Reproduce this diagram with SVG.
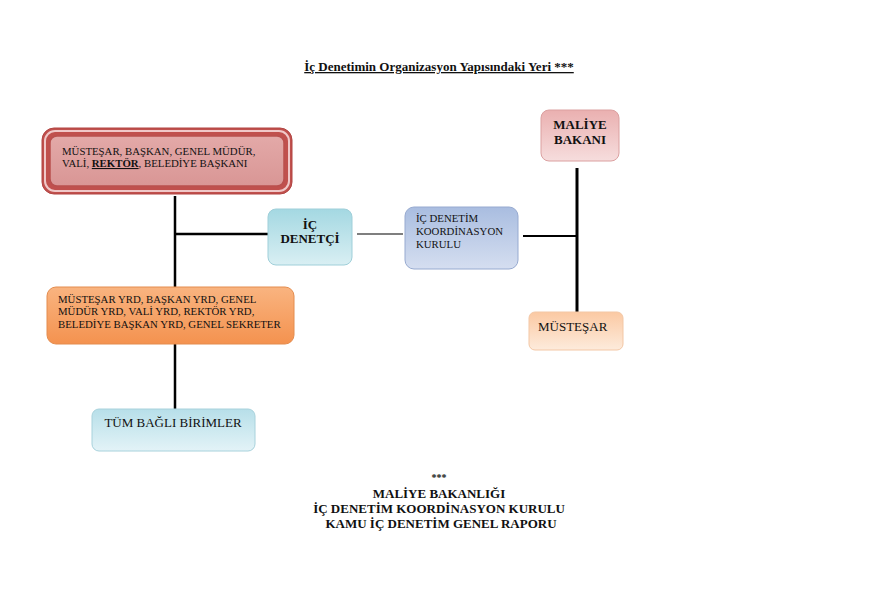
<svg xmlns="http://www.w3.org/2000/svg" width="869" height="599" viewBox="0 0 869 599" font-family="'Liberation Serif', 'DejaVu Serif', serif">
<defs>
<linearGradient id="gRed" x1="0" y1="0" x2="0" y2="1"><stop offset="0" stop-color="#e3a9a8"/><stop offset="1" stop-color="#d99695"/></linearGradient>
<linearGradient id="gCyan" x1="0" y1="0" x2="0" y2="1"><stop offset="0" stop-color="#a4d8e2"/><stop offset="1" stop-color="#d9eff3"/></linearGradient>
<linearGradient id="gBlue" x1="0" y1="0" x2="0" y2="1"><stop offset="0" stop-color="#a9bde0"/><stop offset="1" stop-color="#d5def0"/></linearGradient>
<linearGradient id="gPink" x1="0" y1="0" x2="0" y2="1"><stop offset="0" stop-color="#eab0b0"/><stop offset="1" stop-color="#f6dddd"/></linearGradient>
<linearGradient id="gOrange" x1="0" y1="0" x2="0" y2="1"><stop offset="0" stop-color="#f9b480"/><stop offset="1" stop-color="#f4924f"/></linearGradient>
<linearGradient id="gPeach" x1="0" y1="0" x2="0" y2="1"><stop offset="0" stop-color="#fbc9a3"/><stop offset="1" stop-color="#fdebdc"/></linearGradient>
<linearGradient id="gLight" x1="0" y1="0" x2="0" y2="1"><stop offset="0" stop-color="#b7dfe9"/><stop offset="1" stop-color="#e3f3f7"/></linearGradient>
</defs>
<style>
text{font-family:"Liberation Serif","DejaVu Serif",serif;fill:#111;}
.s{font-size:10.8px;}
.bc{font-weight:bold;font-size:13px;text-anchor:middle;}
.line{stroke:#000;fill:none;}
</style>
<rect width="869" height="599" fill="#fff"/>
<g id="title">
<text x="439" y="71" class="bc" style="font-size:13px;text-decoration:underline">İç Denetimin Organizasyon Yapısındaki Yeri ***</text>
</g>
<g id="connectors">
<path class="line" stroke-width="2.5" d="M175 196V287M175 234H268M175 344V409"/>
<path class="line" stroke-width="1.2" d="M357 234H403"/>
<path class="line" stroke-width="2" d="M523 236H577"/>
<path class="line" stroke-width="3" d="M577 168V312"/>
</g>
<g id="n_top">
<rect x="42" y="128" width="250" height="66" rx="12" fill="#c0504d" stroke="#b24543"/>
<rect x="45" y="131" width="244" height="60" rx="10" fill="none" stroke="#f0c8c8" stroke-width="2"/>
<rect x="50" y="136" width="234" height="50" rx="7" fill="url(#gRed)" stroke="#b9504e" stroke-width="1.5"/>
<text class="s" x="62" y="155">MÜSTEŞAR, BAŞKAN, GENEL MÜDÜR,</text>
<text class="s" x="62" y="167">VALİ, <tspan font-weight="bold" text-decoration="underline">REKTÖR</tspan>, BELEDİYE BAŞKANI</text>
</g>
<g id="n_icdenetci">
<rect x="268" y="209" width="84" height="56" rx="8" fill="url(#gCyan)" stroke="#9fcfd9"/>
<text class="bc" x="310" y="229">İÇ</text>
<text class="bc" x="310" y="243">DENETÇİ</text>
</g>
<g id="n_kurul">
<rect x="405" y="207" width="113" height="62" rx="9" fill="url(#gBlue)" stroke="#97aad0"/>
<text class="s" x="416" y="222">İÇ DENETİM</text>
<text class="s" x="416" y="235">KOORDİNASYON</text>
<text class="s" x="416" y="248">KURULU</text>
</g>
<g id="n_maliye">
<rect x="541" y="110" width="78" height="51" rx="8" fill="url(#gPink)" stroke="#dba0a0"/>
<text class="bc" x="580" y="129">MALİYE</text>
<text class="bc" x="580" y="144">BAKANI</text>
</g>
<g id="n_mustesar">
<rect x="529" y="312" width="94" height="38" rx="6" fill="url(#gPeach)" stroke="#f3c7a5"/>
<text x="538" y="331" style="font-size:13px">MÜSTEŞAR</text>
</g>
<g id="n_yrd">
<rect x="47" y="287" width="247" height="57" rx="9" fill="url(#gOrange)" stroke="#e48c4e"/>
<text class="s" x="58" y="303">MÜSTEŞAR YRD, BAŞKAN YRD, GENEL</text>
<text class="s" x="58" y="315">MÜDÜR YRD, VALİ YRD, REKTÖR YRD,</text>
<text class="s" x="58" y="328">BELEDİYE BAŞKAN YRD, GENEL SEKRETER</text>
</g>
<g id="n_tum">
<rect x="92" y="409" width="163" height="42" rx="7" fill="url(#gLight)" stroke="#a8d2dc"/>
<text x="173" y="427" text-anchor="middle" style="font-size:13px">TÜM BAĞLI BİRİMLER</text>
</g>
<g id="footer">
<text class="bc" x="439" y="481" style="font-size:10px">***</text>
<text class="bc" x="439" y="498">MALİYE BAKANLIĞI</text>
<text class="bc" x="439" y="513">İÇ DENETİM KOORDİNASYON KURULU</text>
<text class="bc" x="441" y="528">KAMU İÇ DENETİM GENEL RAPORU</text>
</g>
</svg>
